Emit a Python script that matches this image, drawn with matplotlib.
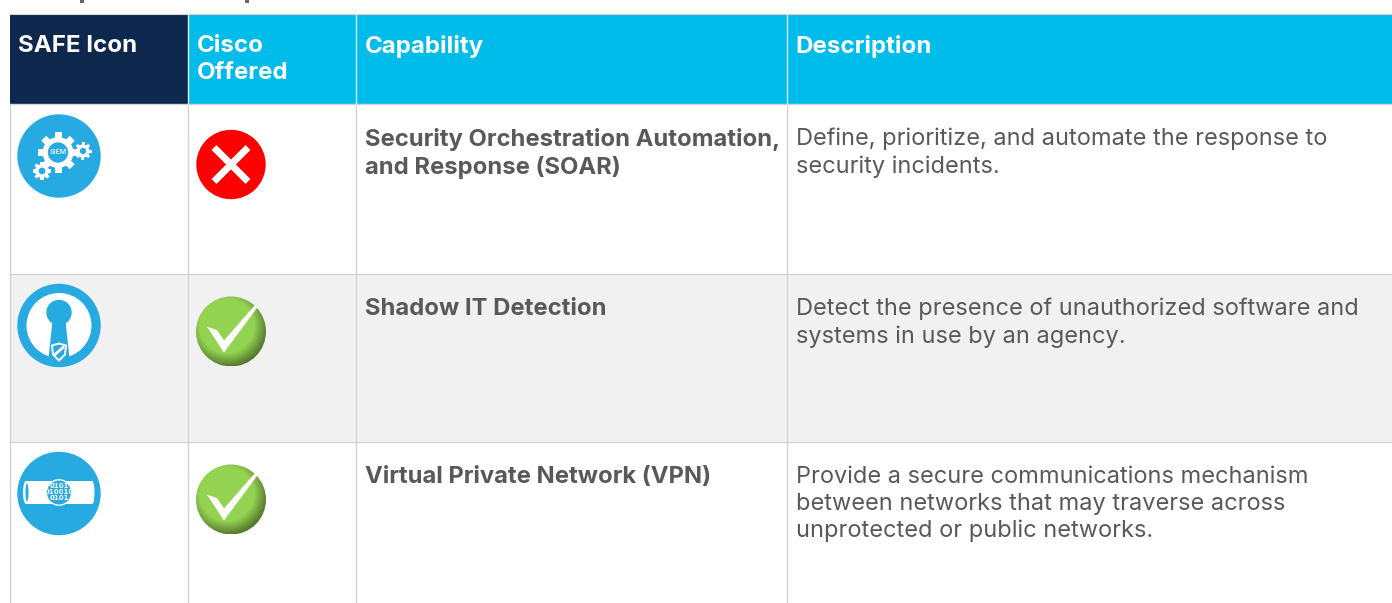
import matplotlib
matplotlib.use("Agg")
import matplotlib.pyplot as plt
import numpy as np
from matplotlib.patches import Circle, Rectangle, Polygon, Ellipse

W, H = 1392, 603
headers = ["SAFE Icon", "Cisco\nOffered", "Capability", "Description"]
capabilities = ["Security Orchestration Automation,\nand Response (SOAR)",
                "Shadow IT Detection",
                "Virtual Private Network (VPN)"]
descriptions = ["Define, prioritize, and automate the response to\nsecurity incidents.",
                "Detect the presence of unauthorized software and\nsystems in use by an agency.",
                "Provide a secure communications mechanism\nbetween networks that may traverse across\nunprotected or public networks."]
offered = [False, True, True]
col_edges = [10, 188, 356, 787, 1392]
row_edges = [14, 104, 274, 442, 603]
row_fill = ["white", "#f1f1f1", "white"]
NAVY, CYAN, BLUE, GRID, TXT = "#0d274d", "#00bceb", "#27aae1", "#d4d4d4", "#595959"
FONT = "Inter"
FS_HEAD, FS_BOLD, FS_REG = 17.35, 17.15, 16.95

fig = plt.figure(figsize=(W/100, H/100), dpi=100)
ax = fig.add_axes([0, 0, 1, 1])
ax.set_xlim(0, W); ax.set_ylim(H, 0); ax.axis("off")

def label(x, y, s, color, size, bold=True):
    ax.text(x, y, s, color=color, fontsize=size, family=FONT, va="top", ha="left",
            fontweight="bold" if bold else "normal", linespacing=1.27)

# stubs of the cropped title's descenders above the table
for x, w in [(80, 3.5), (245, 4)]:
    ax.add_patch(Rectangle((x, 0), w, 3, fc="#666666", ec="none"))

# header
for i, h in enumerate(headers):
    ax.add_patch(Rectangle((col_edges[i], row_edges[0]), col_edges[i+1]-col_edges[i],
                           row_edges[1]-row_edges[0], fc=NAVY if i == 0 else CYAN, ec="none"))
    label(col_edges[i]+8.5, row_edges[0]+21.5, h, "white", FS_HEAD)
# rows
for r in range(3):
    ax.add_patch(Rectangle((col_edges[0], row_edges[r+1]), W-col_edges[0],
                           row_edges[r+2]-row_edges[r+1], fc=row_fill[r], ec="none"))
    label(col_edges[2]+9, row_edges[r+1]+24, capabilities[r], TXT, FS_BOLD)
    label(col_edges[3]+8.5, row_edges[r+1]+24, descriptions[r], TXT, FS_REG, bold=False)
# grid
for y in row_edges[1:-1]:
    ax.plot([col_edges[0], W], [y, y], color=GRID, lw=1, zorder=3)
ax.plot([col_edges[0], W], [row_edges[0]-.5]*2, color=GRID, lw=.8, zorder=3)
for i, x in enumerate(col_edges[:-1]):
    ax.plot([x, x], [row_edges[1], H], color=GRID, lw=1, zorder=3)
    if i > 0:
        ax.plot([x, x], [row_edges[0], row_edges[1]], color="#d8eef5", lw=1, zorder=3)

def gear(cx, cy, r, hole, z=5):
    for a in np.linspace(0, 2*np.pi, 8, endpoint=False):
        ax.add_patch(Rectangle((cx-r*.2, cy-r*1.15), r*.4, r*.5, fc="white", ec="none", zorder=z,
            transform=matplotlib.transforms.Affine2D().rotate_around(cx, cy, a)+ax.transData))
    ax.add_patch(Circle((cx, cy), r*.88, fc="white", ec="none", zorder=z))
    ax.add_patch(Circle((cx, cy), r*hole, fc=BLUE, ec="none", zorder=z+1))

def icon_siem(cx, cy):
    ax.add_patch(Circle((cx, cy), 41.7, fc=BLUE, ec="none", zorder=4))
    gear(cx-1, cy-3.5, 17.5, .58)
    gear(cx+24, cy-5, 7.5, .42)
    gear(cx-17, cy+15, 8, .42)
    ax.text(cx-1, cy-3.5, "SIEM", color="#cfeaf8", fontsize=5, fontweight="bold", ha="center", va="center", zorder=8, family=FONT)

def icon_key(cx, cy):
    ax.add_patch(Circle((cx, cy), 41.7, fc=BLUE, ec="none", zorder=4))
    ax.add_patch(Circle((cx, cy), 32.5, fc="white", ec="none", zorder=5))
    ax.add_patch(Circle((cx, cy-13), 12.7, fc=BLUE, ec="none", zorder=6))
    ax.add_patch(Polygon([(cx-6.7, cy-3), (cx+6.7, cy-3), (cx+10.5, cy+33), (cx-10.5, cy+33)], fc=BLUE, ec="none", zorder=6))
    ax.add_patch(Polygon([(cx-7, cy+20), (cx, cy+18), (cx+7, cy+20), (cx+6, cy+29), (cx, cy+35), (cx-6, cy+29)],
                         fc=BLUE, ec="white", lw=1.4, zorder=7))
    ax.plot([cx-4, cx+4], [cy+29, cy+22], color="white", lw=2, zorder=8)

def icon_vpn(cx, cy):
    ax.add_patch(Circle((cx, cy), 41.7, fc=BLUE, ec="none", zorder=4))
    ax.add_patch(Rectangle((cx-33, cy-12.5), 66, 23, fc="white", ec="none", zorder=5))
    ax.add_patch(Ellipse((cx-33, cy-1), 6, 23, fc="white", ec="none", zorder=5))
    ax.add_patch(Ellipse((cx+33, cy-1), 5, 23, fc="white", ec="none", zorder=5))
    ax.add_patch(Ellipse((cx-32, cy-1), 3, 18, fc=BLUE, ec="none", zorder=6))
    ax.add_patch(Circle((cx, cy-1), 12.7, fc=BLUE, ec="white", lw=1, zorder=6))
    ax.text(cx, cy-1, "0101\n010010\n0101", color="white", fontsize=5, fontweight="bold", ha="center", va="center",
            linespacing=1.0, zorder=8, family="DejaVu Sans")

def icon_no(cx, cy):
    ax.add_patch(Circle((cx, cy), 34.7, fc="#fe0000", ec="none", zorder=4))
    ax.plot([cx-17, cx+17], [cy-17, cy+17], color="white", lw=5, zorder=5, solid_capstyle="butt")
    ax.plot([cx-17, cx+17], [cy+17, cy-17], color="white", lw=5, zorder=5, solid_capstyle="butt")

def icon_yes(cx, cy):
    xs = np.linspace(-1, 1, 141)
    X, Y = np.meshgrid(xs, xs)
    d = np.hypot(X+.12, Y+.15)
    t = np.clip((d-.78)/.45, 0, 1)
    c0, c1 = np.array([0.58, 0.83, 0.32]), np.array([0.30, 0.42, 0.16])
    img = c0[None, None, :]*(1-t[..., None]) + c1[None, None, :]*t[..., None]
    im = ax.imshow(img, extent=(cx-35, cx+35, cy+35, cy-35), zorder=4, interpolation="bilinear")
    im.set_clip_path(Circle((cx, cy), 35, transform=ax.transData))
    ax.add_patch(Polygon([(cx-24, cy-4.8), (cx-14, cy-1.5), (cx-7, cy+9), (cx+24, cy-26.5), (cx+26, cy-23.5),
                          (cx-7, cy+21)], fc="white", ec="none", zorder=5))

for f, cy in zip([icon_siem, icon_key, icon_vpn], [156, 325.5, 493.5]):
    f(59, cy)
for ok, cy in zip(offered, [164.5, 331.5, 499.5]):
    (icon_yes if ok else icon_no)(231, cy)

ax.set_xlim(0, W); ax.set_ylim(H, 0)
fig.savefig("out.png", dpi=100)
